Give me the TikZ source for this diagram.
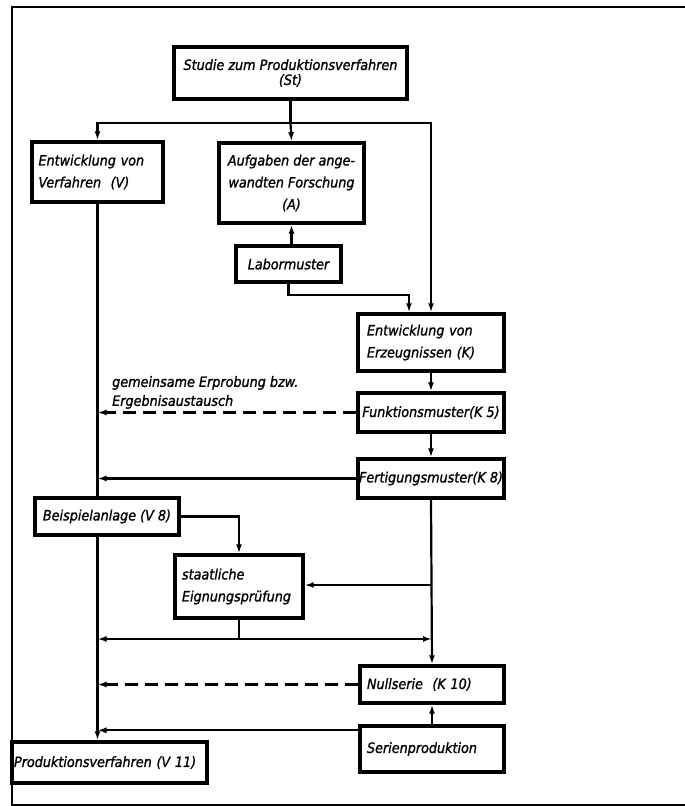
\documentclass[tikz,border=0pt]{standalone}
\usepackage{fontspec}
\setmainfont{DejaVu Sans Condensed}
\newfontfamily\lettering[ItalicFont={* Oblique},ItalicFeatures={FakeBold=1.3}]{DejaVu Sans Condensed}
\usetikzlibrary{arrows.meta,positioning}

\begin{document}
\begin{tikzpicture}[x=1pt,y=-1pt,>={Latex[length=9pt,width=6pt]},
    box/.style={draw,line width=3.4pt,inner sep=0pt,align=center,
      font=\lettering\itshape\fontsize{14.2}{22}\selectfont},
    leftbox/.style={box,align=left,text width=#1},
    link/.style={line width=2.2pt},
    dashlink/.style={link,dash pattern=on 13pt off 7pt}]
    \useasboundingbox (0,0) rectangle (685,806);
    % frame
    \draw[line width=2pt] (685,7) -- (12,7) -- (12,805) -- (685,805);

    % boxes
    \node[box,minimum width=233,minimum height=52,
      font=\lettering\itshape\fontsize{14.2}{15}\selectfont] (st) at (290.5,73) {Studie zum Produktionsverfahren\\(St)};
    \node[leftbox=118,minimum width=131,minimum height=60] (v) at (97.5,172) {Entwicklung von\\Verfahren~~(V)};
    \node[box,minimum width=145,minimum height=80] (a) at (291.5,183) {Aufgaben der ange-\\wandten Forschung\\(A)};
    \node[box,minimum width=105,minimum height=36] (lab) at (288.5,264) {Labormuster};
    \node[leftbox=128,minimum width=146,minimum height=57] (k) at (431,342.5) {Entwicklung von\\Erzeugnissen (K)};
    \node[box,minimum width=146,minimum height=39] (k5) at (431,412.5) {Funktionsmuster(K~5)};
    \node[box,minimum width=146,minimum height=39] (k8) at (431,478.5) {Fertigungsmuster(K~8)};
    \node[box,minimum width=144,minimum height=37] (bsp) at (107,516.5) {Beispielanlage (V~8)};
    \node[leftbox=114,minimum width=128,minimum height=63] (sta) at (239,586.5) {staatliche\\Eignungsprüfung};
    \node[leftbox=130,minimum width=144,minimum height=37] (nul) at (432,684.5) {Nullserie~~(K~10)};
    \node[leftbox=130,minimum width=144,minimum height=46] (ser) at (432,749) {Serienproduktion};
    \node[leftbox=191,minimum width=195,minimum height=41] (prod) at (109.5,762.5) {Produktionsverfahren~(V~11)};

    % connectors
    \coordinate (split) at (st.south |- 0,123);
    \draw[link] (st.south) -- (split);
    \draw[link,->] (split) -| (v.north);
    \draw[link,->] (split) -- (a.north);
    \draw[link,->] (split) -| (k.north);
    \draw[link,->] (lab.north -| a.south) -- (a.south);
    \coordinate (kin) at ([xshift=-22pt]k.north);
    \draw[link,->] (lab.south) |- (kin |- 0,295) -- (kin);
    \draw[link,->] (k.south) -- (k5.north);
    \draw[link,->] (k5.south) -- (k8.north);
    \draw[dashlink,->] (k5.west) -- (k5.west -| v.south);
    \draw[link,->] (k8.west) -- (k8.west -| v.south);
    \node[anchor=south west,align=left,inner sep=0pt,
      font=\lettering\itshape\fontsize{14.2}{19}\selectfont] (lbl) at (112,409)
      {gemeinsame Erprobung bzw.\\Ergebnisaustausch};
    \draw[link] (v.south) -- (v.south |- bsp.north);
    \draw[link,->] (v.south |- bsp.south) -- (v.south |- prod.north);
    \draw[link,->] (bsp.east) -| (sta.north);
    \draw[link,->] (k8.south) -- (nul.north);
    \coordinate (br) at (k8.south |- 0,585);
    \draw[link,->] (br) -- (br -| sta.east);
    \coordinate (mid) at (sta.south |- 0,639);
    \draw[link] (sta.south) -- (mid);
    \draw[link,->] (mid) -- (mid -| v.south);
    \draw[link,->] (mid) -- (mid -| nul.north);
    \draw[dashlink,->] (nul.west) -- (nul.west -| v.south);
    \draw[link,->] (ser.north) -- (nul.south);
    \coordinate (sout) at ([yshift=-6pt]ser.north west);
    \draw[link,->] (sout) -- (sout -| v.south);
\end{tikzpicture}
\end{document}
